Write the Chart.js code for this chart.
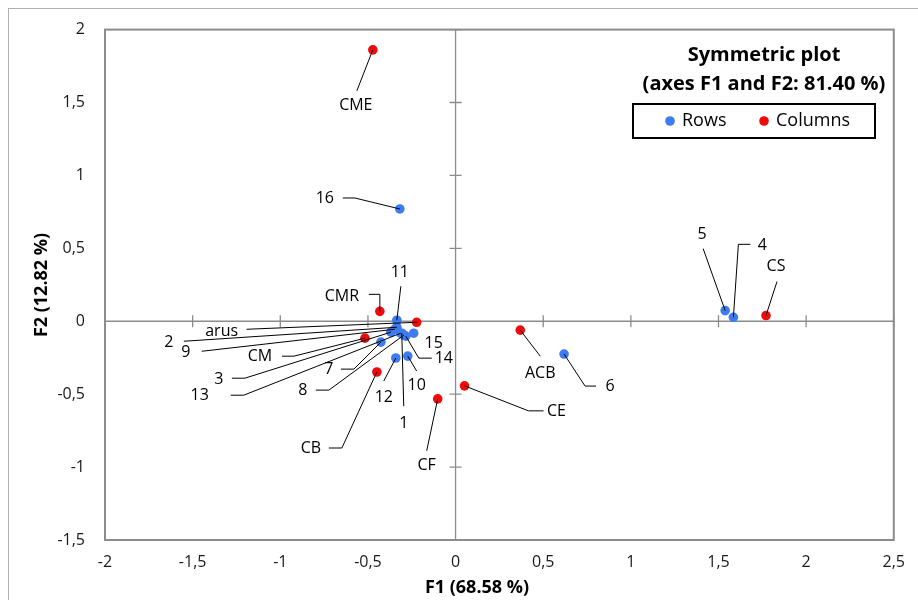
<!DOCTYPE html>
<html>
<head>
<meta charset="utf-8">
<script src="https://cdn.jsdelivr.net/npm/chart.js@4.4.1/dist/chart.umd.min.js"></script>
<style>
  html, body { margin: 0; padding: 0; background: #fff; }
  #wrap { width: 918px; height: 600px; }
</style>
</head>
<body>
<div id="wrap"><canvas id="chart"></canvas></div>
<script>
// Rows (blue points)
const rowLabels = ["1", "2", "3", "4", "5", "6", "7", "8", "9", "10", "11", "12", "13", "14", "15", "16"];
const rowF1 = [-0.307, -0.335, -0.369, 1.585, 1.538, 0.619, -0.426, -0.295, -0.347, -0.273, -0.335, -0.341, -0.313, -0.284, -0.239, -0.318];
const rowF2 = [-0.082, -0.041, -0.075, 0.027, 0.073, -0.225, -0.143, -0.095, -0.055, -0.239, 0.007, -0.252, -0.082, -0.102, -0.082, 0.770];

// Columns (red points)
const colLabels = ["CME", "CMR", "arus", "CM", "CB", "CF", "CE", "ACB", "CS"];
const colF1 = [-0.472, -0.432, -0.222, -0.517, -0.449, -0.102, 0.051, 0.369, 1.771];
const colF2 = [1.861, 0.068, -0.007, -0.116, -0.348, -0.532, -0.443, -0.061, 0.039];

// axis ticks
const xTicks = [-2, -1.5, -1, -0.5, 0, 0.5, 1, 1.5, 2, 2.5];
const yTicks = [-1.5, -1, -0.5, 0, 0.5, 1, 1.5, 2];

const titleLines = ["Symmetric plot", "(axes F1 and F2: 81.40 %)"];
const xTitle = "F1 (68.58 %)";
const yTitle = "F2 (12.82 %)";

// label placement, pixel offsets from the point: t = text, s = line start, e = elbow
const callouts = {
  "1": { t: [2, 90], s: [2, 73] },
  "2": { t: [-228, 15], s: [-213, 14] },
  "3": { t: [-172, 47], s: [-159, 46], e: [-146, 46] },
  "4": { t: [29, -72], s: [17, -73], e: [5, -73] },
  "5": { t: [-23, -76], s: [-22, -62] },
  "6": { t: [46, 32], s: [32, 32], e: [21, 32] },
  "7": { t: [-52, 27], s: [-40, 27], e: [-27, 27] },
  "8": { t: [-101, 55], s: [-88, 55], e: [-75, 55] },
  "9": { t: [-209, 23], s: [-193, 22] },
  "10": { t: [9, 29], s: [9, 15] },
  "11": { t: [3, -48], s: [4, -34] },
  "12": { t: [-12, 39], s: [-12, 23] },
  "13": { t: [-201, 62], s: [-170, 62], e: [-157, 62] },
  "14": { t: [38, 22], s: [26, 22], e: [13, 22] },
  "15": { t: [20, 10] },
  "16": { t: [-75, -11], s: [-57, -11], e: [-45, -11] },
  "CME": { t: [-17, 56], s: [-16, 41] },
  "CMR": { t: [-38, -15], s: [-11, -17], e: [0, -17] },
  "arus": { t: [-195, 9], s: [-170, 7] },
  "CM": { t: [-105, 18], s: [-83, 18], e: [-71, 18] },
  "CB": { t: [-66, 76], s: [-48, 76], e: [-35, 76] },
  "CF": { t: [-11, 67], s: [-11, 52] },
  "CE": { t: [92, 26], s: [79, 25], e: [64, 25] },
  "ACB": { t: [20, 43], s: [20, 26] },
  "CS": { t: [10, -49], s: [11, -34] }
};

const FONT = "'Open Sans', sans-serif";
const BLUE = "#3d7bf0";
const RED = "#f00a0a";
const GREY = "#8c8c8c";

function fmt(v) {
  return String(v).replace(".", ",");
}

function toPoints(xs, ys) {
  return xs.map((v, i) => ({ x: v, y: ys[i] }));
}

const decor = {
  id: "decor",
  beforeDraw(chart) {
    const ctx = chart.ctx;
    ctx.save();
    ctx.fillStyle = "#fff";
    ctx.fillRect(0, 0, chart.width, chart.height);
    ctx.strokeStyle = "#b0b0b0";
    ctx.lineWidth = 1;
    ctx.strokeRect(8.5, 8.5, chart.width, chart.height);
    ctx.restore();
  },
  beforeDatasetsDraw(chart) {
    const { ctx, chartArea: a, scales: { x, y } } = chart;
    const x0 = x.getPixelForValue(0);
    const y0 = y.getPixelForValue(0);
    ctx.save();
    ctx.strokeStyle = GREY;
    ctx.lineWidth = 1.3;
    ctx.beginPath();
    ctx.moveTo(a.left, y0);
    ctx.lineTo(a.right, y0);
    ctx.moveTo(x0, a.top);
    ctx.lineTo(x0, a.bottom);
    xTicks.forEach((v) => {
      const px = x.getPixelForValue(v);
      ctx.moveTo(px, y0 - 6);
      ctx.lineTo(px, y0 + 6);
    });
    yTicks.forEach((v) => {
      const py = y.getPixelForValue(v);
      ctx.moveTo(x0 - 6, py);
      ctx.lineTo(x0 + 6, py);
    });
    ctx.stroke();
    // plot area frame
    ctx.lineWidth = 2;
    ctx.strokeRect(a.left, a.top, a.right - a.left, a.bottom - a.top);
    ctx.restore();
  },
  afterDatasetsDraw(chart) {
    const ctx = chart.ctx;
    ctx.save();
    ctx.font = "16px " + FONT;
    ctx.textAlign = "center";
    ctx.textBaseline = "middle";
    ctx.strokeStyle = "#000";
    ctx.fillStyle = "#000";
    ctx.lineWidth = 1;
    chart.data.datasets.forEach((ds, i) => {
      const meta = chart.getDatasetMeta(i);
      meta.data.forEach((pt, j) => {
        const c = callouts[ds.names[j]];
        if (!c) return;
        if (c.s) {
          ctx.beginPath();
          ctx.moveTo(pt.x + c.s[0], pt.y + c.s[1]);
          if (c.e) ctx.lineTo(pt.x + c.e[0], pt.y + c.e[1]);
          ctx.lineTo(pt.x, pt.y);
          ctx.stroke();
        }
        ctx.fillText(ds.names[j], pt.x + c.t[0], pt.y + c.t[1]);
      });
    });
    ctx.restore();
  },
  afterDraw(chart) {
    const ctx = chart.ctx;
    ctx.save();
    ctx.fillStyle = "#000";
    ctx.textAlign = "center";
    ctx.textBaseline = "middle";

    // title
    ctx.font = "bold 20px " + FONT;
    ctx.fillText(titleLines[0], 764, 55);
    ctx.fillText(titleLines[1], 764, 84);

    // legend box
    ctx.lineWidth = 2;
    ctx.strokeStyle = "#000";
    ctx.strokeRect(633, 104, 242, 34);
    ctx.font = "18px " + FONT;
    ctx.textAlign = "left";
    chart.data.datasets.forEach((ds, i) => {
      const lx = i === 0 ? 670 : 764;
      ctx.fillStyle = ds.backgroundColor;
      ctx.beginPath();
      ctx.arc(lx, 121, 4.8, 0, Math.PI * 2);
      ctx.fill();
      ctx.fillStyle = "#000";
      ctx.fillText(ds.label, lx + 12, 121);
    });

    // axis titles
    ctx.textAlign = "center";
    ctx.font = "bold 18px " + FONT;
    ctx.fillText(xTitle, 477, 588);
    ctx.translate(42, 285);
    ctx.rotate(-Math.PI / 2);
    ctx.fillText(yTitle, 0, 0);
    ctx.restore();
  }
};

const tickFont = { family: FONT, size: 16 };

new Chart(document.getElementById("chart"), {
  type: "scatter",
  data: {
    datasets: [
      {
        label: "Rows",
        names: rowLabels,
        data: toPoints(rowF1, rowF2),
        backgroundColor: BLUE,
        borderWidth: 0,
        pointRadius: 4.8,
      },
      {
        label: "Columns",
        names: colLabels,
        data: toPoints(colF1, colF2),
        backgroundColor: RED,
        borderWidth: 0,
        pointRadius: 4.8,
      },
    ],
  },
  options: {
    responsive: true,
    maintainAspectRatio: false,
    animation: false,
    devicePixelRatio: 1,
    layout: { padding: { left: 0, top: 27, right: 21, bottom: 0 } },
    plugins: {
      legend: { display: false },
      tooltip: { enabled: false },
    },
    scales: {
      x: {
        type: "linear",
        min: -2,
        max: 2.5,
        afterBuildTicks: (axis) => {
          axis.ticks = xTicks.map((v) => ({ value: v }));
        },
        afterFit: (axis) => {
          axis.height = 60;
        },
        grid: { display: false, drawTicks: false },
        border: { display: false },
        ticks: { callback: fmt, font: tickFont, color: "#1a1a1a", padding: 13, maxRotation: 0 },
      },
      y: {
        type: "linear",
        min: -1.5,
        max: 2,
        afterBuildTicks: (axis) => {
          axis.ticks = yTicks.map((v) => ({ value: v }));
        },
        afterFit: (axis) => {
          axis.width = 105;
        },
        grid: { display: false, drawTicks: false },
        border: { display: false },
        ticks: { callback: fmt, font: tickFont, color: "#1a1a1a", padding: 20 },
      },
    },
  },
  plugins: [decor],
});
</script>
</body>
</html>
